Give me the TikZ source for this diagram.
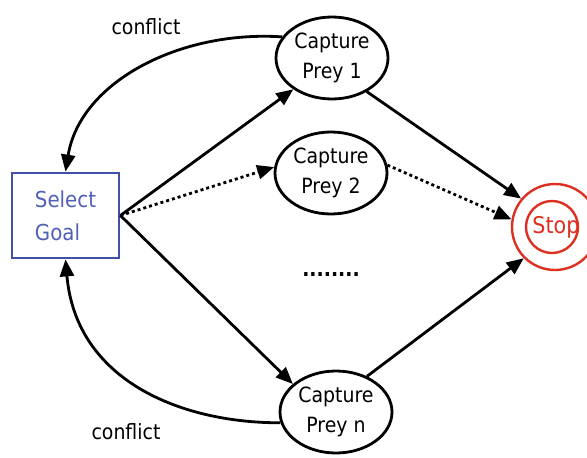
\documentclass[tikz,border=0pt]{standalone}
\usepackage{fontspec}
\setmainfont{DejaVu Sans Condensed}
\usetikzlibrary{arrows.meta,shapes.geometric}
\definecolor{goalblue}{RGB}{64,80,168}
\definecolor{goaltext}{RGB}{80,96,184}
\definecolor{stopred}{RGB}{222,48,32}
\tikzset{
  lbl/.style={font=\fontsize{21}{30}\selectfont},
  prey/.style={ellipse, draw=black, line width=2.8pt, minimum width=112pt,
    minimum height=82pt, inner sep=0pt, align=center, lbl},
  goalbox/.style={rectangle, draw=goalblue, line width=2.8pt, minimum width=107pt,
    minimum height=85pt, inner sep=0pt, align=left, text=goaltext,
    font=\fontsize{22}{33}\selectfont},
  stopring/.style={circle, draw=stopred, line width=2.4pt, minimum size=86pt, inner sep=0pt},
  stopcore/.style={circle, draw=stopred, line width=2.4pt, minimum size=52pt, inner sep=0pt,
    text=stopred, font=\fontsize{23}{30}\selectfont},
  flow/.style={line width=2.8pt, -{Triangle[length=17pt,width=14pt]}},
  maybe/.style={flow, dash pattern=on 3pt off 3pt},
}
\begin{document}
\begin{tikzpicture}[x=1pt,y=-1pt]
\useasboundingbox (0,0) rectangle (587,458);

% states
\node[goalbox] (goal) at (65.5,215.5) {Select\\Goal};
\node[prey] (p1) at (332,58) {Capture\\Prey 1};
\node[prey] (p2) at (331,173) {Capture\\Prey 2};
\node[prey] (pn) at (336,412) {Capture\\Prey n};
\node[stopring] (stop) at (555,227) {};
\node[stopcore] (stopin) at (552,227) {};
\node[text=stopred, font=\fontsize{23}{30}\selectfont] (stoplbl) at (556,227) {Stop};
\node[font=\fontsize{21}{30}\selectfont\bfseries] (dots) at (331,275) {........};

% edge labels
\node[lbl] (c1) at (146,27) {conflict};
\node[lbl] (c2) at (126,432) {conflict};

% goal selection
\draw[flow] (goal.east) -- (p1.219);
\draw[maybe] (goal.east) -- (p2.174);
\draw[flow] (goal.east) -- (pn.147);

% completion
\draw[flow] (p1.-44) -- (stop.140);
\draw[maybe] (p2.8) -- (stop.170);
\draw[flow] (pn.49) -- (stop.225);

% conflicts return to goal selection
\draw[flow] (p1.157) .. controls (180,30) and (80,82) .. (goal.north);
\draw[flow] (pn.191) .. controls (180,423) and (76,380) .. (goal.south);
\end{tikzpicture}
\end{document}
